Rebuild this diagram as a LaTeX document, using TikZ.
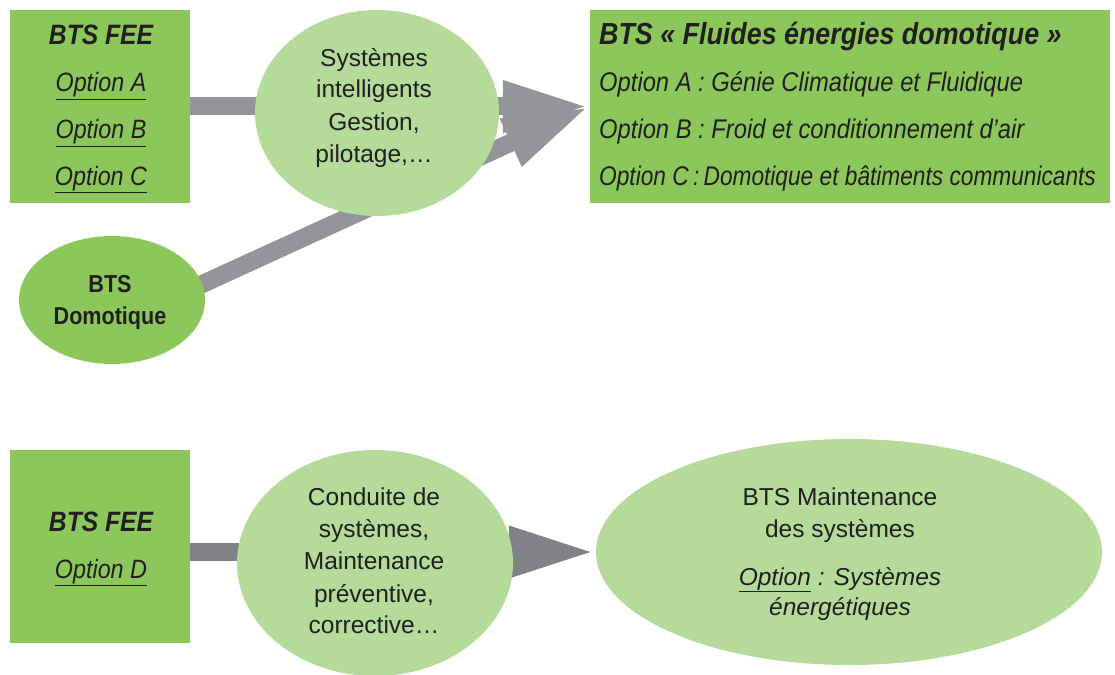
\documentclass[tikz,border=0pt]{standalone}
\usepackage{fontspec}
\setmainfont{Liberation Sans}
\newfontfamily\cnd{Liberation Sans}[FakeStretch=0.88]
\usetikzlibrary{shapes.geometric,arrows.meta,backgrounds}
\definecolor{dgreen}{HTML}{8BC75A}
\definecolor{lgreen}{HTML}{B5DB9B}
\definecolor{agray}{HTML}{939598}
\definecolor{bgray}{HTML}{808285}
\definecolor{ink}{HTML}{231F20}
\tikzset{
  box/.style={rectangle, fill=dgreen, draw=none, inner sep=0pt},
  bubble/.style={ellipse, fill=lgreen, draw=none, inner sep=0pt},
  dbubble/.style={ellipse, fill=dgreen, draw=none, inner sep=0pt},
  bigarrow/.style={line width=18pt, -{Triangle[length=87pt,width=47pt]}},
  txt/.style={anchor=base, inner sep=0pt, text=ink},
  ltxt/.style={anchor=base west, inner sep=0pt, text=ink},
}
\newcommand{\ttlfont}{\cnd\bfseries\itshape\fontsize{28}{32}\selectfont}
\newcommand{\optfont}{\cnd\itshape\fontsize{26.5}{30}\selectfont}
\newcommand{\roptfont}{\cnd\itshape\fontsize{27}{30}\selectfont}
\newcommand{\ellfont}{\fontsize{24.5}{30}\selectfont}
\newcommand{\domfont}{\cnd\bfseries\fontsize{24.5}{28}\selectfont}
\begin{document}
\begin{tikzpicture}[x=1pt,y=-1pt]
\useasboundingbox (0,0) rectangle (1115,674);
% boxes and bubbles
\node[box, minimum width=180pt, minimum height=193pt] (fee1) at (100,106.5) {};
\node[box, minimum width=520pt, minimum height=193pt] (fluid) at (850,106.5) {};
\node[bubble, minimum width=244pt, minimum height=206pt] (sys) at (377,113) {};
\node[dbubble, minimum width=186pt, minimum height=128pt] (dom) at (112,300) {};
\node[box, minimum width=180pt, minimum height=193pt] (fee2) at (100,546.5) {};
\node[bubble, minimum width=276pt, minimum height=226pt] (cond) at (375,563) {};
\node[bubble, minimum width=506pt, minimum height=226pt] (maint) at (849,552) {};
% connectors
\begin{pgfonlayer}{background}
\draw[bigarrow, agray] (fee1) -- (fluid.west);
\draw[bigarrow, agray, shorten <=-25pt] (dom.10) -- (fluid.west);
\draw[bigarrow, bgray] (fee2.east |- maint.west) -- (maint.west);
\end{pgfonlayer}
% texts: top-left box
\node[txt, font=\ttlfont] (t1) at (101,45) {BTS FEE};
\node[txt, font=\optfont] (t2) at (101,92) {\underline{Option A}};
\node[txt, font=\optfont] (t3) at (101,139) {\underline{Option B}};
\node[txt, font=\optfont] (t4) at (101,185) {\underline{Option C}};
% right box
\node[ltxt, font=\cnd\bfseries\itshape\fontsize{30.5}{32}\selectfont] (r1) at (599,45) {BTS « Fluides énergies domotique »};
\node[ltxt, font=\roptfont] (r2) at (599,92) {Option A : Génie Climatique et Fluidique};
\node[ltxt, font=\roptfont] (r3) at (599,138) {Option B : Froid et conditionnement d’air};
\node[ltxt, font=\roptfont] (r4) at (599,185) {\scalebox{0.955}[1]{Option C\,:\,Domotique et bâtiments communicants}};
% systems bubble
\node[txt, font=\ellfont] (s1) at (374,67) {Systèmes};
\node[txt, font=\ellfont] (s2) at (374,98) {intelligents};
\node[txt, font=\ellfont] (s3) at (374,130) {Gestion,};
\node[txt, font=\ellfont] (s4) at (374,162) {pilotage,…};
% domotique
\node[txt, font=\domfont] (d1) at (110,292) {BTS};
\node[txt, font=\domfont] (d2) at (110,324) {Domotique};
% bottom-left box
\node[txt, font=\ttlfont] (b1) at (101,531) {BTS FEE};
\node[txt, font=\optfont] (b2) at (101,578) {\underline{Option D}};
% conduite bubble
\node[txt, font=\ellfont] (c1) at (374,505) {Conduite de};
\node[txt, font=\ellfont] (c2) at (374,537) {systèmes,};
\node[txt, font=\ellfont] (c3) at (374,569) {Maintenance};
\node[txt, font=\ellfont] (c4) at (374,602) {préventive,};
\node[txt, font=\ellfont] (c5) at (374,633) {corrective…};
% maintenance bubble
\node[txt, font=\ellfont] (m1) at (840,505) {BTS Maintenance};
\node[txt, font=\ellfont] (m2) at (840,537) {des systèmes};
\node[txt, font=\itshape\fontsize{24.5}{30}\selectfont] (m3) at (840,585) {\underline{Option} : Systèmes};
\node[txt, font=\itshape\fontsize{24.5}{30}\selectfont] (m4) at (840,615) {énergétiques};
\end{tikzpicture}
\end{document}
